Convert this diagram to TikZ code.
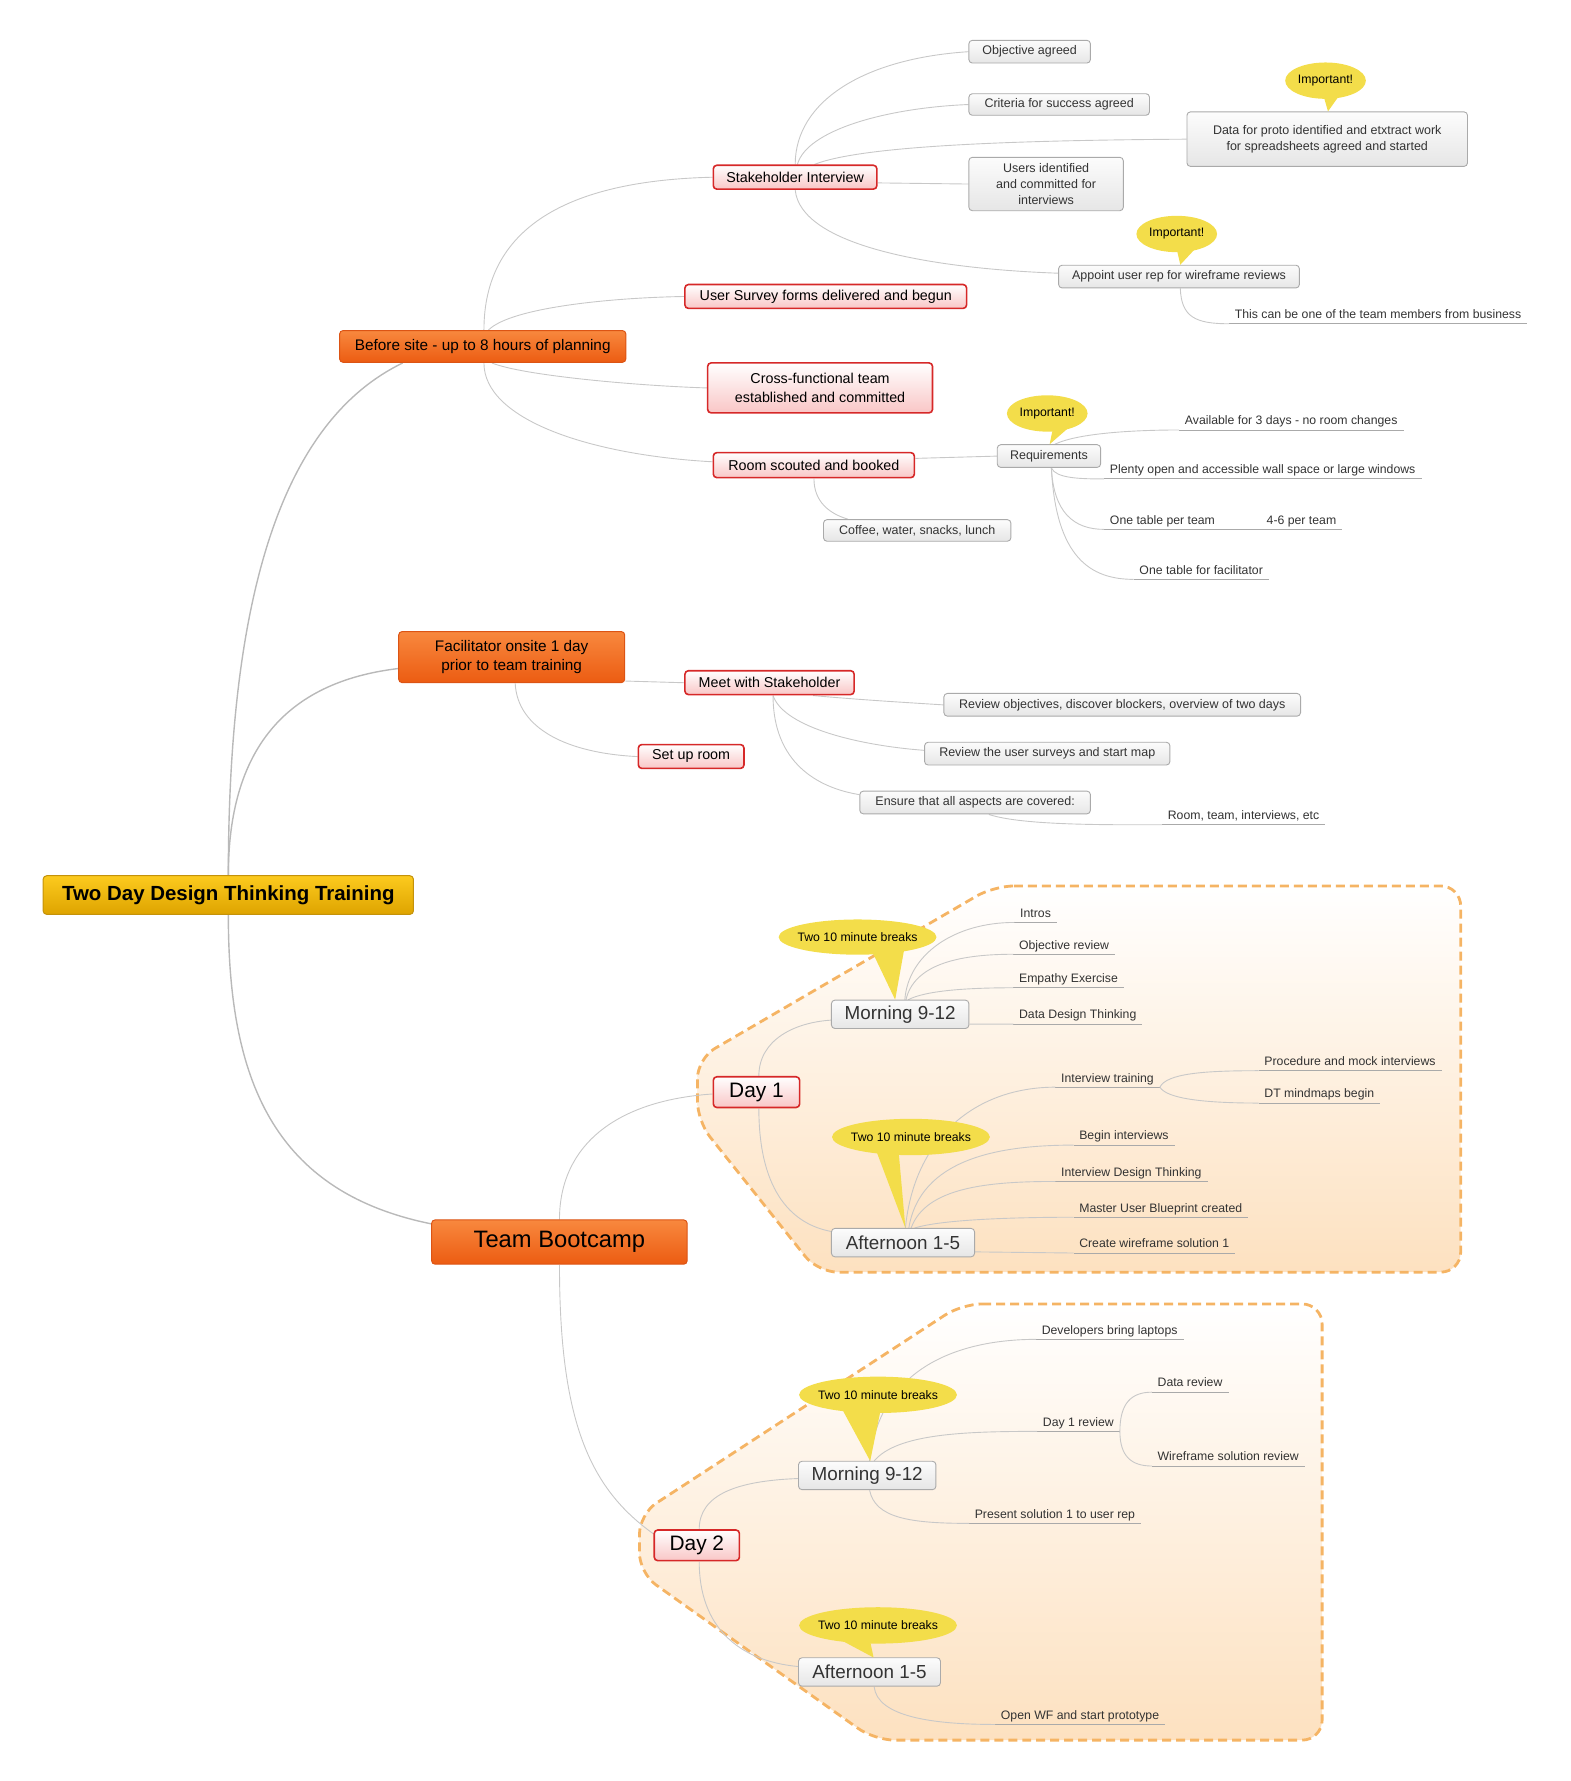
\documentclass[tikz,border=0pt]{standalone}
\usepackage{fontspec}
\setmainfont{Liberation Sans}
\usetikzlibrary{calc,shapes.geometric}
\definecolor{conn}{RGB}{200,200,200}
\definecolor{connD}{RGB}{185,185,185}
\definecolor{grayB}{RGB}{170,170,170}
\definecolor{grayT}{RGB}{252,252,252}
\definecolor{grayBot}{RGB}{230,230,230}
\definecolor{redB}{RGB}{214,40,40}
\definecolor{redBot}{RGB}{249,198,198}
\definecolor{orT}{RGB}{248,136,62}
\definecolor{orBot}{RGB}{236,92,18}
\definecolor{orB}{RGB}{220,84,20}
\definecolor{goT}{RGB}{252,202,30}
\definecolor{goBot}{RGB}{222,164,0}
\definecolor{goB}{RGB}{196,146,10}
\definecolor{yel}{RGB}{243,221,74}
\definecolor{peach}{RGB}{253,225,192}
\definecolor{dashc}{RGB}{245,180,100}
\definecolor{txt}{RGB}{51,51,51}
\pgfdeclarelayer{bg}\pgfdeclarelayer{lines}\pgfsetlayers{bg,lines,main}
\tikzset{
 box/.style={rounded corners=3.5pt, inner sep=0pt, align=center, transform shape},
 rootbox/.style={box, top color=goT, bottom color=goBot, draw=goB, line width=1pt, font=\fontsize{18}{22}\selectfont\bfseries},
 orbox/.style={box, top color=orT, bottom color=orBot, draw=orB, line width=1pt, font=\fontsize{13.5}{17}\selectfont},
 redbox/.style={box, top color=white, bottom color=redBot, draw=redB, line width=1.6pt, font=\fontsize{12.6}{16}\selectfont},
 graybox/.style={box, top color=grayT, bottom color=grayBot, draw=grayB, line width=0.9pt, text=txt, font=\fontsize{11}{14}\selectfont},
 sess/.style={graybox, font=\fontsize{16.6}{20}\selectfont},
 leaf/.style={anchor=south west, inner xsep=5pt, inner ysep=2pt, text height=8pt, text depth=2.2pt, text=txt, font=\fontsize{10.8}{13}\selectfont, transform shape},
 ctext/.style={inner sep=0pt, transform shape, font=\fontsize{10.8}{13}\selectfont},
 link/.style={draw=conn, line width=0.9pt},
 mainlink/.style={draw=connD, line width=1.4pt},
 uline/.style={draw=grayB, line width=0.9pt},
 bound/.style={draw=dashc, line width=2.8pt, dash pattern=on 9pt off 5pt, rounded corners=20pt, top color=white, bottom color=peach},
}
\begin{document}
\begin{tikzpicture}[x=1pt,y=-1pt,scale=1.136]
\useasboundingbox (0,0) rectangle (1383,1568);
% boundaries
\begin{pgfonlayer}{bg}
\draw[bound] (875,780) -- (1286,780) -- (1286,1120) -- (720,1120) -- (614,987) -- (614,932) -- cycle;
\draw[bound] (847,1148) -- (1164,1148) -- (1164,1532) -- (770,1532) -- (563,1385) -- (563,1333) -- cycle;
\end{pgfonlayer}
% main nodes
\node[rootbox, minimum width=326pt, minimum height=34pt] (root) at (201,788) {Two Day Design Thinking Training};
\node[orbox, minimum width=252pt, minimum height=28pt] (before) at (425,305) {Before site - up to 8 hours of planning};
\node[orbox, minimum width=199pt, minimum height=45pt] (facil) at (450.5,578.5) {Facilitator onsite 1 day\\prior to team training};
\node[orbox, font=\fontsize{20.9}{25}\selectfont, minimum width=225pt, minimum height=39pt] (boot) at (492.5,1093.5) {Team Bootcamp};
% red
\node[redbox, minimum width=144pt, minimum height=21pt] (stake) at (700,156) {Stakeholder Interview};
\node[redbox, minimum width=248pt, minimum height=21pt] (survey) at (727,261) {User Survey forms delivered and begun};
\node[redbox, minimum width=198pt, minimum height=44pt] (cross) at (722,341.5) {Cross-functional team\\established and committed};
\node[redbox, minimum width=177pt, minimum height=22pt] (room) at (716.5,409.5) {Room scouted and booked};
\node[redbox, minimum width=149pt, minimum height=21pt] (meet) at (677.5,601) {Meet with Stakeholder};
\node[redbox, minimum width=93pt, minimum height=21pt] (setup) at (608.5,666) {Set up room};
\node[redbox, font=\fontsize{18.4}{22}\selectfont, minimum width=76pt, minimum height=27pt] (day1) at (666,961.5) {Day 1};
\node[redbox, font=\fontsize{18.4}{22}\selectfont, minimum width=75pt, minimum height=27pt] (day2) at (613.5,1360.5) {Day 2};
% gray
\node[graybox, minimum width=107pt, minimum height=20pt] (obj) at (906.5,45.5) {Objective agreed};
\node[graybox, minimum width=159pt, minimum height=19pt] (crit) at (932.5,92) {Criteria for success agreed};
\node[graybox, minimum width=247pt, minimum height=48pt] (data) at (1168.5,122.5) {Data for proto identified and etxtract work\\for spreadsheets agreed and started};
\node[graybox, minimum width=136pt, minimum height=47pt] (users) at (921,162) {Users identified\\and committed for\\interviews};
\node[graybox, minimum width=212pt, minimum height=20pt] (appoint) at (1038,243.5) {Appoint user rep for wireframe reviews};
\node[graybox, minimum width=91pt, minimum height=20pt] (req) at (923.5,401.5) {Requirements};
\node[graybox, minimum width=165pt, minimum height=19pt] (coffee) at (807.5,467) {Coffee, water, snacks, lunch};
\node[graybox, minimum width=314pt, minimum height=20pt] (rev1) at (988,620.5) {Review objectives, discover blockers, overview of two days};
\node[graybox, minimum width=216pt, minimum height=20pt] (rev2) at (922,663.5) {Review the user surveys and start map};
\node[graybox, minimum width=203pt, minimum height=20pt] (ensure) at (858.5,706.5) {Ensure that all aspects are covered:};
\node[sess, minimum width=121pt, minimum height=25pt] (m1) at (792.5,893) {Morning 9-12};
\node[sess, minimum width=126pt, minimum height=25pt] (a1) at (795,1094) {Afternoon 1-5};
\node[sess, minimum width=121pt, minimum height=25pt] (m2) at (763.5,1299) {Morning 9-12};
\node[sess, minimum width=125pt, minimum height=25pt] (a2) at (765.5,1472) {Afternoon 1-5};
% leaves
\node[leaf] (this) at (1082,285) {This can be one of the team members from business};
\node[leaf] (avail) at (1038,378.5) {Available for 3 days - no room changes};
\node[leaf] (plenty) at (972,421.6) {Plenty open and accessible wall space or large windows};
\node[leaf] (tbl) at (972,466) {One table per team};
\node[leaf] (t46) at (1110,466) {4-6 per team};
\node[leaf] (fac) at (998,510) {One table for facilitator};
\node[leaf] (rti) at (1023,726) {Room, team, interviews, etc};
\node[leaf] (intros) at (893,812) {Intros};
\node[leaf] (objrev) at (892,840) {Objective review};
\node[leaf] (empathy) at (892,869.5) {Empathy Exercise};
\node[leaf] (ddt) at (892,901.5) {Data Design Thinking};
\node[leaf] (itrain) at (929,957) {Interview training};
\node[leaf] (proc) at (1108,942.5) {Procedure and mock interviews};
\node[leaf] (dtmm) at (1108,971) {DT mindmaps begin};
\node[leaf] (begin) at (945,1008) {Begin interviews};
\node[leaf] (idt) at (929,1040) {Interview Design Thinking};
\node[leaf] (mub) at (945,1071.5) {Master User Blueprint created};
\node[leaf] (cws) at (945,1103) {Create wireframe solution 1};
\node[leaf] (dev) at (912,1179) {Developers bring laptops};
\node[leaf] (d1r) at (913,1260) {Day 1 review};
\node[leaf] (datar) at (1014,1225.5) {Data review};
\node[leaf] (wfr) at (1014,1290.5) {Wireframe solution review};
\node[leaf] (pres) at (853,1341) {Present solution 1 to user rep};
\node[leaf] (owf) at (876,1518) {Open WF and start prototype};
% callouts
\fill[yel] (1167,71) ellipse [x radius=35.5, y radius=16];
\fill[yel] ($(1167,71)+(-3,9)$) -- ($(data.north)+(0.5,0)$) -- ($(1167,71)+(15,9)$) -- cycle;
\node[ctext] (imp1) at (1167,71) {Important!};
\fill[yel] (1036,206) ellipse [x radius=35.5, y radius=16];
\fill[yel] ($(1036,206)+(-1,9)$) -- ($(appoint.north)+(1,0)$) -- ($(1036,206)+(20,9)$) -- cycle;
\node[ctext] (imp2) at (1036,206) {Important!};
\fill[yel] (922,364) ellipse [x radius=35.5, y radius=16];
\fill[yel] ($(922,364)+(6,8)$) -- ($(req.north)+(0.5,0)$) -- ($(922,364)+(24,8)$) -- cycle;
\node[ctext] (imp3) at (922,364) {Important!};
\fill[yel] (755,825) ellipse [x radius=69.5, y radius=15.5];
\fill[yel] (767,836) -- ($(m1.north)+(-4.5,0)$) -- (796,836) -- cycle;
\node[ctext] (brk1) at (755,825) {Two 10 minute breaks};
\fill[yel] (802,1001) ellipse [x radius=69.5, y radius=16];
\fill[yel] (771,1012) -- ($(a1.north)+(2,0)$) -- (791,1012) -- cycle;
\node[ctext] (brk2) at (802,1001) {Two 10 minute breaks};
\fill[yel] (773,1228) ellipse [x radius=69.5, y radius=16];
\fill[yel] (740,1238) -- ($(m2.north)+(2.5,0)$) -- (776,1238) -- cycle;
\node[ctext] (brk3) at (773,1228) {Two 10 minute breaks};
\fill[yel] (773,1431) ellipse [x radius=69.5, y radius=16];
\fill[yel] (733,1440) -- ($(a2.north)+(3.5,0)$) -- (765,1440) -- cycle;
\node[ctext] (brk4) at (773,1431) {Two 10 minute breaks};
% connectors
\begin{pgfonlayer}{lines}
\foreach \n in {this,avail,plenty,tbl,t46,fac,rti,intros,objrev,empathy,ddt,itrain,proc,dtmm,begin,idt,mub,cws,dev,d1r,datar,wfr,pres,owf}
  \draw[uline] (\n.south west) -- (\n.south east);
\draw[mainlink] (root.north) .. controls +(0,-250) and +(-105,51) .. ($(before.south west)+(56,0)$);
\draw[mainlink] (root.north) .. controls +(0,-110) and +(-100,12) .. ($(facil.west)+(0,10)$);
\draw[mainlink] (root.south) .. controls +(0,145) and +(-140,-28) .. ($(boot.north west)+(1,4)$);
\draw[link] ($(before.north)+(1,0)$) .. controls +(0,-90) and +(-128,3) .. (stake.west);
\draw[link] ($(before.north)+(5,0)$) .. controls +(20,-20) and +(-63,1) .. (survey.west);
\draw[link] ($(before.south)+(8,0)$) .. controls +(27,11) and +(-63,-2) .. (cross.west);
\draw[link] ($(before.south)+(1,0)$) .. controls +(0,50) and +(-108,-6) .. ($(room.west)+(0,-3)$);
\draw[link] (stake.north) .. controls +(0,-55) and +(-93,6) .. (obj.west);
\draw[link] ($(stake.north)+(2,0)$) .. controls +(8,-30) and +(-73,3) .. (crit.west);
\draw[link] ($(stake.north)+(17,0)$) .. controls +(43,-17) and +(-145,1) .. (data.west);
\draw[link] ($(stake.east)+(0,5)$) -- (users.west);
\draw[link] (stake.south) .. controls +(5,49) and +(-112,-4) .. ($(appoint.west)+(0,-3)$);
\draw[link] ($(appoint.south)+(1,0)$) .. controls +(1,25) and +(-30,0) .. (this.south west);
\draw[link] ($(room.east)+(0,-6)$) -- (req.west);
\draw[link] (room.south) .. controls +(0,20) and +(-17,-5) .. ($(coffee.north west)+(22,0)$);
\draw[link] ($(req.north)+(5,0)$) .. controls +(21,-10) and +(-38,0) .. (avail.south west);
\draw[link] ($(req.south)+(2,0)$) .. controls +(4,9) and +(-22,0) .. (plenty.south west);
\draw[link] ($(req.south)+(2,0)$) .. controls +(2,39) and +(-27,0) .. (tbl.south west);
\draw[link] ($(req.south)+(2,0)$) .. controls +(4,79) and +(-38,0) .. (fac.south west);
\draw[uline] (tbl.south east) -- (t46.south west);
\draw[link] ($(facil.south east)+(0,-2)$) -- (meet.west);
\draw[link] ($(facil.south)+(3,0)$) .. controls +(2,40) and +(-62,-3) .. (setup.west);
\draw[link] ($(meet.south east)+(-37,0)$) .. controls +(45,4) and +(-31,-2) .. (rev1.west);
\draw[link] ($(meet.south)+(3,0)$) .. controls +(10,29) and +(-54,-4) .. ($(rev2.west)+(0,-3)$);
\draw[link] ($(meet.south)+(3,0)$) .. controls +(0,59) and +(-37,-6) .. ($(ensure.west)+(0,-7)$);
\draw[link] ($(ensure.south)+(12,0)$) .. controls +(30,10) and +(-43,0) .. (rti.south west);
\draw[link] (boot.north) .. controls +(0,-63) and +(-88,6) .. ($(day1.west)+(0,1.5)$);
\draw[link] (boot.south) .. controls +(0,138) and +(-56,-40) .. ($(day2.north west)+(0,4)$);
\draw[link] ($(day1.north)+(2,0)$) .. controls +(0,-32) and +(-32,2) .. ($(m1.west)+(0,5)$);
\draw[link] ($(day1.south)+(2,0)$) .. controls +(0,76) and +(-32,-6) .. ($(a1.west)+(0,-10)$);
\draw[link] ($(m1.north)+(4,0)$) .. controls +(3,-40) and +(-53,0) .. (intros.south west);
\draw[link] ($(m1.north)+(5,0)$) .. controls +(7,-30) and +(-51,0) .. (objrev.south west);
\draw[link] ($(m1.north)+(7,0)$) .. controls +(15,-8) and +(-41,0) .. (empathy.south west);
\draw[link] ($(m1.east)+(0,8.5)$) -- (ddt.south west);
\draw[link] ($(a1.north)+(2,0)$) .. controls +(8,-81) and +(-69,0) .. (itrain.south west);
\draw[link] (itrain.south east) .. controls +(6,-12) and +(-49,0) .. (proc.south west);
\draw[link] (itrain.south east) .. controls +(6,10) and +(-49,0) .. (dtmm.south west);
\draw[link] ($(a1.north)+(5,0)$) .. controls +(10,-61) and +(-66,0) .. (begin.south west);
\draw[link] ($(a1.north)+(7,0)$) .. controls +(13,-36) and +(-59,0) .. (idt.south west);
\draw[link] ($(a1.north)+(10,0)$) .. controls +(25,-8) and +(-46,0) .. (mub.south west);
\draw[link] ($(a1.east)+(0,8)$) -- (cws.south west);
\draw[link] ($(day2.north)+(2,0)$) .. controls +(0,-31) and +(-53,2) .. ($(m2.west)+(0,2.5)$);
\draw[link] ($(day2.south)+(2,0)$) .. controls +(0,57) and +(-53,-5) .. ($(a2.west)+(0,-5)$);
\draw[link] ($(m2.north)+(2,0)$) .. controls +(9,-86) and +(-62,0) .. (dev.south west);
\draw[link] ($(m2.north)+(6,0)$) .. controls +(20,-24) and +(-64,0) .. (d1r.south west);
\draw[link] (d1r.south east) .. controls +(0,-25) and +(-18,0) .. (datar.south west);
\draw[link] (d1r.south east) .. controls +(0,22) and +(-18,0) .. (wfr.south west);
\draw[link] ($(m2.south)+(2,0)$) .. controls +(5,24) and +(-53,0) .. (pres.south west);
\draw[link] ($(a2.south)+(4,0)$) .. controls +(3,26) and +(-56,0) .. (owf.south west);
\end{pgfonlayer}
\end{tikzpicture}
\end{document}
